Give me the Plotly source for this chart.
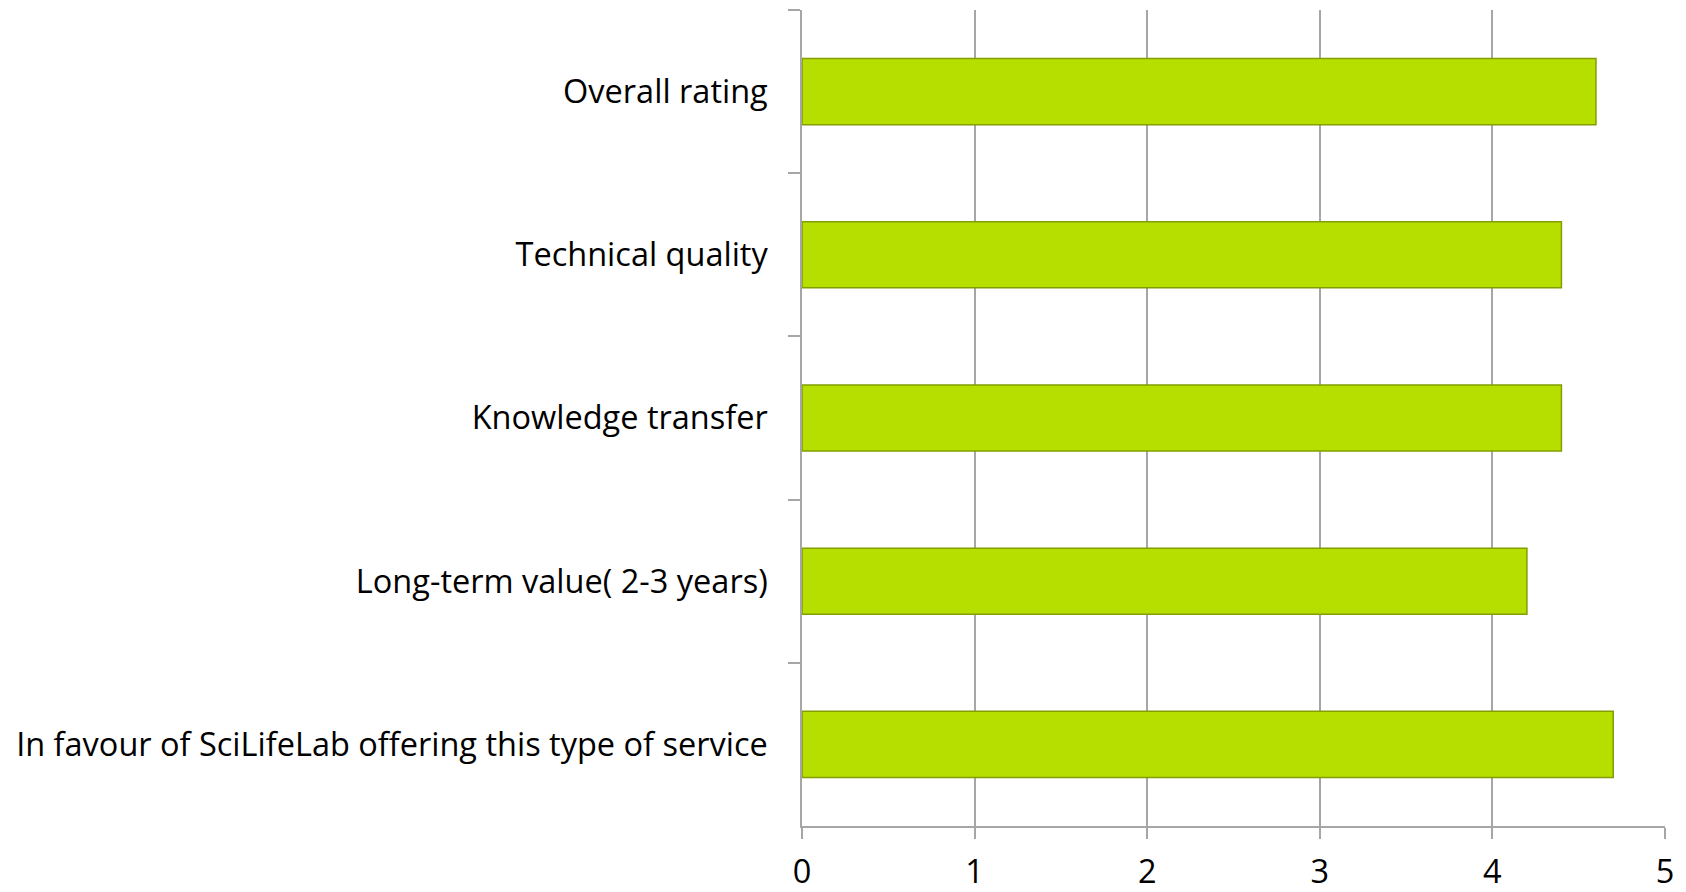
import plotly.graph_objects as go

categories = [
    "Overall rating",
    "Technical quality",
    "Knowledge transfer",
    "Long-term value( 2-3 years)",
    "In favour of SciLifeLab offering this type of service",
]
scores = [4.6, 4.4, 4.4, 4.2, 4.7]
x_ticks = [0, 1, 2, 3, 4, 5]

FONT = "Open Sans, sans-serif"
GRID = "#a6a6a6"

fig = go.Figure()
fig.add_trace(go.Bar(
    x=scores,
    y=categories,
    orientation="h",
    marker=dict(color="#b6df00", line=dict(color="#829e00", width=1.5)),
    showlegend=False,
))

fig.update_layout(
    width=1686,
    height=892,
    margin=dict(l=802, r=21, t=10, b=66),
    paper_bgcolor="white",
    plot_bgcolor="white",
    bargap=0.595,
    font=dict(family=FONT, size=32.5, color="#000000"),
    xaxis=dict(
        range=[0, 5],
        tickvals=x_ticks,
        automargin=False,
        showgrid=True,
        gridcolor=GRID,
        gridwidth=1.5,
        showline=True,
        linecolor=GRID,
        linewidth=1.5,
        ticks="outside",
        ticklen=11,
        tickcolor=GRID,
        tickwidth=1.5,
        ticklabelstandoff=5,
        zeroline=False,
        tickfont=dict(family=FONT, size=32.5),
    ),
    yaxis=dict(
        categoryorder="array",
        categoryarray=categories,
        autorange="reversed",
        automargin=False,
        showgrid=False,
        showline=True,
        linecolor=GRID,
        linewidth=1.5,
        ticks="outside",
        tickson="boundaries",
        ticklen=12,
        tickcolor=GRID,
        tickwidth=1.5,
        ticklabelstandoff=26,
        tickfont=dict(family=FONT, size=32.5),
    ),
)

# remove the default page margin so the figure fills the window exactly
fig.write_html(
    "out.html",
    config={"displayModeBar": False},
    post_script="document.body.style.margin='0';document.body.style.overflow='hidden';",
)
